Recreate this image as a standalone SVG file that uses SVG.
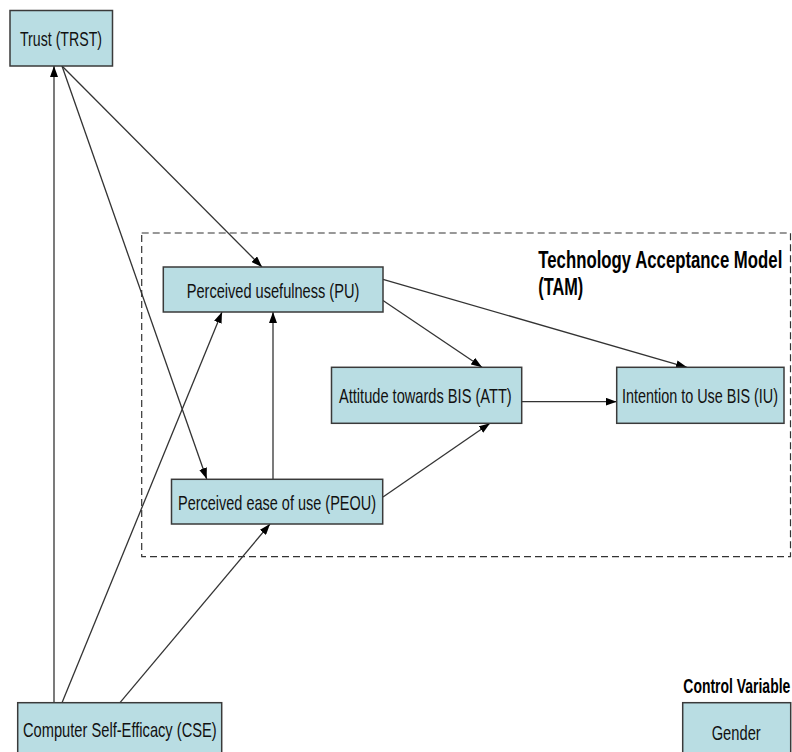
<svg xmlns="http://www.w3.org/2000/svg" width="792" height="752" viewBox="0 0 792 752">
<style>
.box{fill:#B9DDE3;stroke:#3a3a3a;stroke-width:1.5}
.lbl{font-family:"Liberation Sans",Arial,sans-serif;font-size:21px;fill:#111}
.ttl{font-family:"Liberation Sans",Arial,sans-serif;font-weight:bold;fill:#000}
.con{stroke:#333;stroke-width:1.3;fill:none;marker-end:url(#ah)}
</style>
<defs>
<marker id="ah" markerUnits="userSpaceOnUse" markerWidth="11" markerHeight="8" refX="11" refY="4" orient="auto">
<path d="M0,0 L11,4 L0,8 z" fill="#000"/>
</marker>
</defs>
<rect width="792" height="752" fill="#fff"/>
<rect id="tam-frame" x="141.7" y="233" width="648.8" height="323.7" fill="none" stroke="#333" stroke-width="1.2" stroke-dasharray="7,4"/>
<g id="tam-title">
<text class="ttl" style="font-size:16.6px" transform="translate(538.3,268) scale(1,1.4)" x="0" y="0" textLength="244" lengthAdjust="spacingAndGlyphs">Technology Acceptance Model</text>
<text class="ttl" style="font-size:16.6px" transform="translate(538.3,295) scale(1,1.4)" x="0" y="0" textLength="45" lengthAdjust="spacingAndGlyphs">(TAM)</text>
</g>
<g id="control-title">
<text class="ttl" style="font-size:13.8px" transform="translate(683.3,693) scale(1,1.52)" x="0" y="0" textLength="107" lengthAdjust="spacingAndGlyphs">Control Variable</text>
</g>
<g id="connectors">
<line class="con" x1="54" y1="702.7" x2="54" y2="66"/>
<line class="con" x1="62" y1="66" x2="262" y2="267"/>
<line class="con" x1="62" y1="66" x2="206.7" y2="479"/>
<line class="con" x1="62" y1="702.7" x2="222" y2="312"/>
<line class="con" x1="120" y1="702.7" x2="270" y2="524"/>
<line class="con" x1="273" y1="479" x2="273" y2="312"/>
<line class="con" x1="383" y1="497" x2="490" y2="423.3"/>
<line class="con" x1="383" y1="300.5" x2="482" y2="367.3"/>
<line class="con" x1="383" y1="279.3" x2="687" y2="367.3"/>
<line class="con" x1="521.7" y1="401.7" x2="616.7" y2="401.7"/>
</g>
<g id="trst">
<rect class="box" x="10" y="10.5" width="102.5" height="55.5"/>
<text class="lbl" x="20" y="46" textLength="82" lengthAdjust="spacingAndGlyphs">Trust (TRST)</text>
</g>
<g id="pu">
<rect class="box" x="163.3" y="267" width="219.7" height="45"/>
<text class="lbl" x="186.7" y="297.5" textLength="172.6" lengthAdjust="spacingAndGlyphs">Perceived usefulness (PU)</text>
</g>
<g id="att">
<rect class="box" x="331.5" y="367.3" width="190.2" height="56"/>
<text class="lbl" x="339" y="402.5" textLength="172.7" lengthAdjust="spacingAndGlyphs">Attitude towards BIS (ATT)</text>
</g>
<g id="iu">
<rect class="box" x="616.7" y="367.3" width="167.3" height="56"/>
<text class="lbl" style="font-size:14.4px" transform="translate(622,402.5) scale(1,1.46)" x="0" y="0" textLength="156" lengthAdjust="spacingAndGlyphs">Intention to Use BIS (IU)</text>
</g>
<g id="peou">
<rect class="box" x="171.5" y="479.3" width="211.2" height="44.7"/>
<text class="lbl" x="178" y="510" textLength="198" lengthAdjust="spacingAndGlyphs">Perceived ease of use (PEOU)</text>
</g>
<g id="cse">
<rect class="box" x="17.7" y="702.7" width="204" height="60"/>
<text class="lbl" x="23" y="737" textLength="193.7" lengthAdjust="spacingAndGlyphs">Computer Self-Efficacy (CSE)</text>
</g>
<g id="gender">
<rect class="box" x="682.7" y="702.7" width="108" height="60"/>
<text class="lbl" x="711.7" y="740" textLength="49" lengthAdjust="spacingAndGlyphs">Gender</text>
</g>
</svg>
